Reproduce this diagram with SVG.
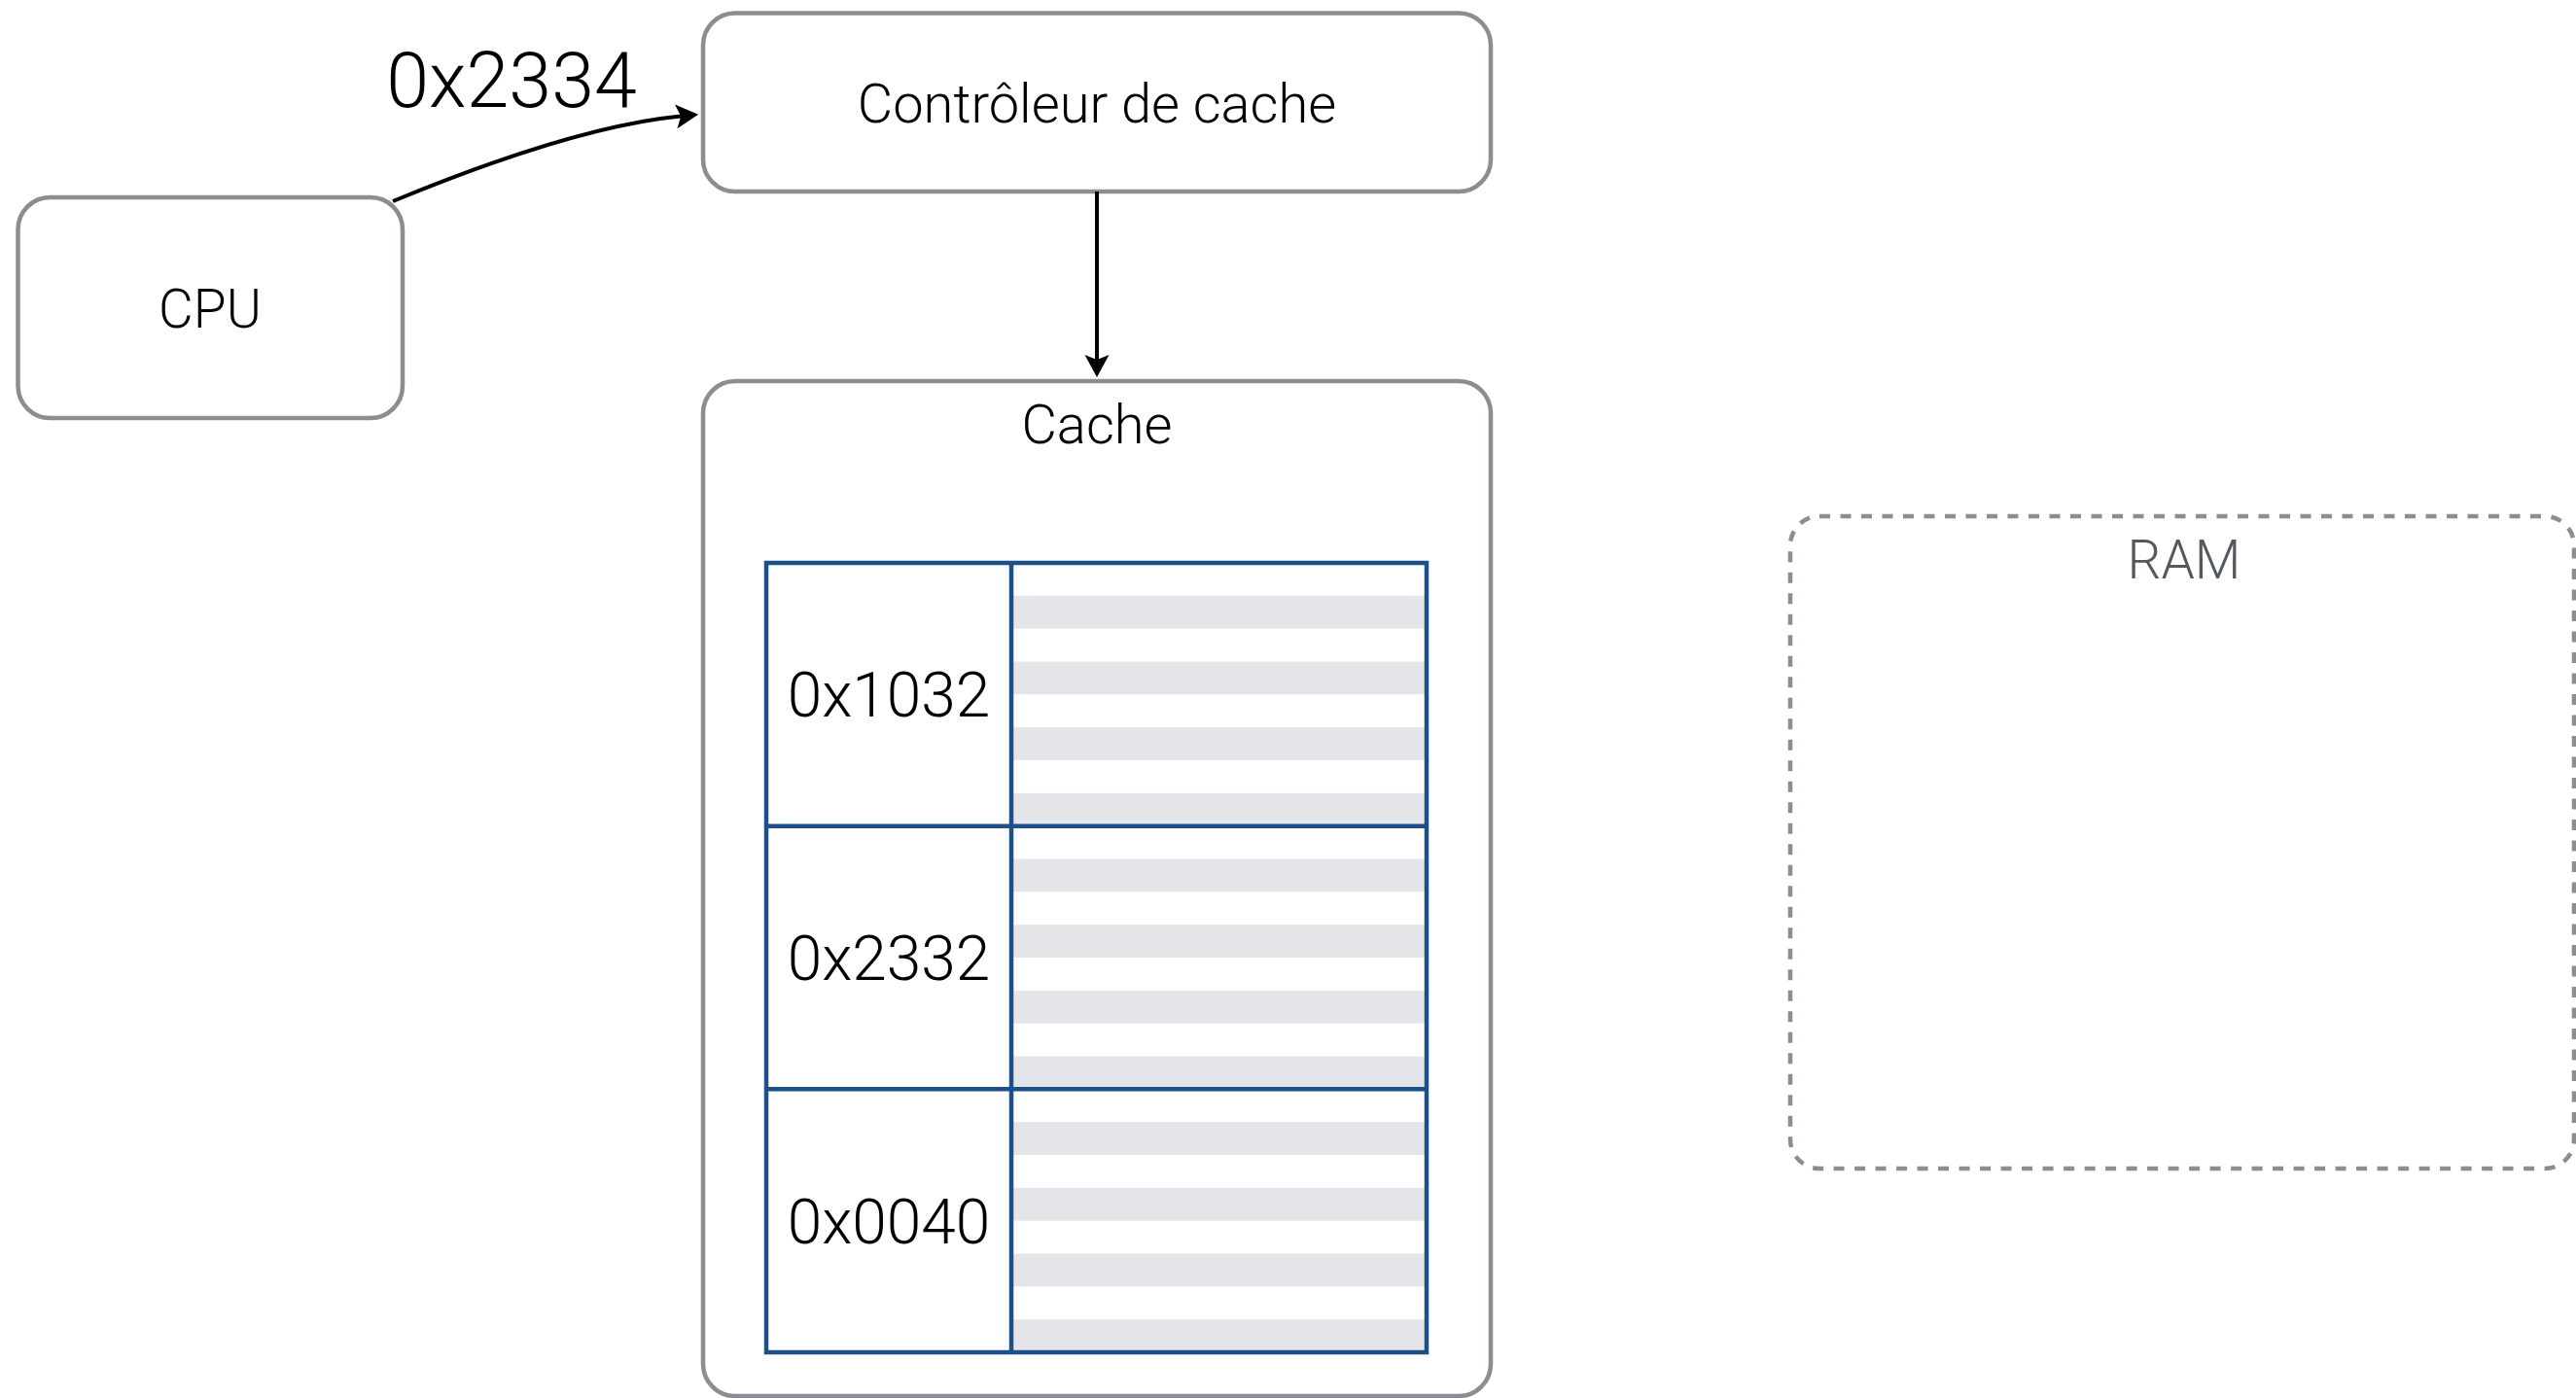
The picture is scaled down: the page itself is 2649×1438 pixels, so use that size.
<svg xmlns="http://www.w3.org/2000/svg" width="2649" height="1438" viewBox="0 0 2649 1438">
  <style>
    .box { fill: #ffffff; stroke: #8a8d91; stroke-width: 4.5; }
    .dash { fill: none; stroke: #8a8d91; stroke-width: 4.5; stroke-dasharray: 11 10.5; }
    .lbl { font-family: Roboto, "Liberation Sans", Arial, sans-serif; font-weight: 300; font-size: 55px; fill: #000000; text-anchor: middle; }
    .cell { font-family: Roboto, "Liberation Sans", Arial, sans-serif; font-weight: 300; font-size: 64px; fill: #000000; text-anchor: middle; }
    .elbl { font-family: Roboto, "Liberation Sans", Arial, sans-serif; font-weight: 300; font-size: 79px; fill: #000000; text-anchor: middle; }
    .band { fill: #e4e5e8; }
    .grid { fill: none; stroke: #1d5088; stroke-width: 4.5; }
    .conn { fill: none; stroke: #000000; stroke-width: 4; }
  </style>
  <defs>
    <marker id="arrow" markerUnits="userSpaceOnUse" markerWidth="30" markerHeight="26" refX="10" refY="13" orient="auto" overflow="visible">
      <path d="M 28,13 L 5,0.5 L 10,13 L 5,25.5 Z" fill="#000000"/>
    </marker>
  </defs>
  <rect width="2649" height="1438" fill="#ffffff"/>

  <g id="cpu">
    <rect class="box" x="18.5" y="203" width="395.5" height="227" rx="33" ry="33"/>
    <text class="lbl" x="216" y="337">CPU</text>
  </g>

  <g id="controleur">
    <rect class="box" x="723" y="13.5" width="810" height="183.5" rx="33" ry="33"/>
    <text class="lbl" x="1128" y="126" style="font-size:56px">Contrôleur de cache</text>
  </g>

  <g id="cache">
    <rect class="box" x="723" y="392" width="810" height="1044" rx="33" ry="33"/>
    <text class="lbl" x="1128" y="456" style="font-size:56px">Cache</text>
    <g id="cache-table">
      <rect class="band" x="1042" y="612.8" width="423" height="33.8"/>
      <rect class="band" x="1042" y="680.5" width="423" height="33.8"/>
      <rect class="band" x="1042" y="748.2" width="423" height="33.8"/>
      <rect class="band" x="1042" y="815.8" width="423" height="33.8"/>
      <rect class="band" x="1042" y="883.5" width="423" height="33.8"/>
      <rect class="band" x="1042" y="951.2" width="423" height="33.8"/>
      <rect class="band" x="1042" y="1018.9" width="423" height="33.8"/>
      <rect class="band" x="1042" y="1086.5" width="423" height="33.8"/>
      <rect class="band" x="1042" y="1154.2" width="423" height="33.8"/>
      <rect class="band" x="1042" y="1221.8" width="423" height="33.8"/>
      <rect class="band" x="1042" y="1289.5" width="423" height="33.8"/>
      <rect class="band" x="1042" y="1357.2" width="423" height="33.8"/>
      <rect class="grid" x="788" y="579" width="679" height="812"/>
      <line class="grid" x1="1040" y1="579" x2="1040" y2="1391"/>
      <line class="grid" x1="788" y1="849.7" x2="1467" y2="849.7"/>
      <line class="grid" x1="788" y1="1120.3" x2="1467" y2="1120.3"/>
      <text class="cell" x="914" y="737">0x1032</text>
      <text class="cell" x="914" y="1007.5">0x2332</text>
      <text class="cell" x="914" y="1278.5">0x0040</text>
    </g>
  </g>

  <g id="ram">
    <rect class="dash" x="1841" y="531" width="806" height="671" rx="30" ry="30"/>
    <text class="lbl" x="2246" y="595" style="fill:#54595f">RAM</text>
  </g>

  <g id="connectors">
    <path class="conn" d="M 404,207 Q 590,130 700.2,119.4" marker-end="url(#arrow)"/>
    <text class="elbl" x="526" y="110">0x2334</text>
    <line class="conn" x1="1128" y1="197" x2="1128" y2="370" marker-end="url(#arrow)"/>
  </g>
</svg>
